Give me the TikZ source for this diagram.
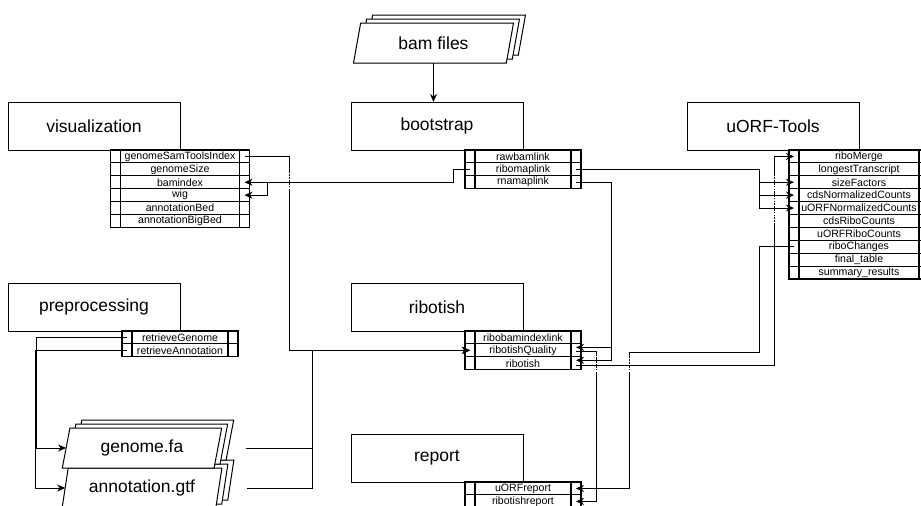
\documentclass[tikz,border=0pt]{standalone}
\usepackage{fontspec}
\setmainfont{Liberation Sans}
\usetikzlibrary{arrows.meta,shapes.geometric,shadows,calc}

\tikzset{
  block/.style={draw, fill=white, line width=1pt, minimum width=172, minimum height=48,
    inner sep=0, outer sep=0, font=\fontsize{17.5}{20}\selectfont},
  portlabel/.style={draw, line width=1.1pt, minimum height=12.9, inner sep=0, outer sep=0,
    font=\fontsize{10.6}{12}\selectfont},
  port/.style={draw, line width=1.1pt, minimum width=10, minimum height=12.9, inner sep=0, outer sep=0},
  datafile/.style={trapezium, trapezium left angle=75, trapezium right angle=105,
    trapezium stretches=true,
    draw, fill=white, line width=1pt, minimum width=160, minimum height=40,
    inner sep=0, outer sep=0, font=\fontsize{17.5}{20}\selectfont,
    general shadow={draw, fill=white, line width=1pt, shadow xshift=12pt, shadow yshift=8pt},
    general shadow={draw, fill=white, line width=1pt, shadow xshift=6pt, shadow yshift=4pt}},
  flow/.style={line width=1pt, -{Stealth[length=8pt,width=7pt,inset=2.5pt]}},
  hop/.style={white, line width=1.6pt, dash pattern=on 1.2pt off 1.6pt}
}

% #1 name, #2 rule box, #3 label width, #4 rows
\newcommand{\porttable}[4]{%
  \foreach \lbl [count=\i] in {#4} {
    \node[portlabel, minimum width=#3] (#1-\i) at ([yshift={-6.45-12.9*(\i-1)}]#2.south east) {\lbl};
    \node[port, anchor=east] (#1-\i-l) at (#1-\i.west) {};
    \node[port, anchor=west] (#1-\i-r) at (#1-\i.east) {};
  }
}

\begin{document}
\begin{tikzpicture}[x=1pt,y=-1pt]
\useasboundingbox (0,0) rectangle (921,506);
% rules
\node[block] (viz) at (94,126) {visualization};
\node[block] (boot) at (437,126) {bootstrap};
\node[block] (uorf) at (773,126) {uORF-Tools};
\node[block] (prep) at (94,307) {preprocessing};
\node[block] (rtish) at (437,307) {ribotish};
\node[block] (rep) at (437,458) {report};
% files
\node[datafile] (bam) at (433.5,43) {bam files};
\node[datafile] (annot) at (142,488) {annotation.gtf};
\node[datafile] (genome) at (142,448) {genome.fa};
% outputs
\porttable{viz}{viz}{119}{genomeSamToolsIndex,genomeSize,bamindex,wig,annotationBed,annotationBigBed}
\porttable{boot}{boot}{96}{rawbamlink,ribomaplink,rnamaplink}
\porttable{uorf}{uorf}{120}{riboMerge,longestTranscript,sizeFactors,cdsNormalizedCounts,uORFNormalizedCounts,cdsRiboCounts,uORFRiboCounts,riboChanges,final\_table,summary\_results}
\porttable{prep}{prep}{96}{retrieveGenome,retrieveAnnotation}
\porttable{rtish}{rtish}{96}{ribobamindexlink,ribotishQuality,ribotish}
\porttable{rep}{rep}{96}{uORFreport,ribotishreport}
% dependencies
\draw[flow] (bam.south) -- (bam.south |- boot.north);
\draw[flow] (viz-1-r.center) -- ++(45,0) |- (rtish-2-l.center);
\draw[flow] ([xshift=28]genome.east) -| (312,0 |- rtish-2-l.center) -- (rtish-2-l.center);
\draw[flow] ([xshift=28]annot.east) -| (312,0 |- rtish-2-l.center) -- (rtish-2-l.center);
\draw[flow] (prep-1-l.center) -| ([xshift=-30]genome.west) -- (genome.west);
\draw[flow] (prep-2-l.center) -| ([xshift=-30]annot.west) -- (annot.west);
\draw[flow] (boot-2-l.center) -- ++(-16.5,0) |- (viz-3-r.center);
\draw[flow] (boot-2-l.center) -- ++(-16.5,0) |- ([xshift=23]viz-3-r.center) |- (viz-4-r.center);
\foreach \k in {3,4,5}
  \draw[flow] (boot-2-r.center) -| ([xshift=-35]uorf-\k-l.center) -- (uorf-\k-l.center);
\foreach \k in {2,3}
  \draw[flow] (boot-3-r.center) -| ([xshift=35,yshift=3]rtish-\k-r.center) -- ([yshift=3]rtish-\k-r.center);
\draw[flow] ([yshift=-1.5]rtish-2-r.center) -- ++(20,0) |- (rep-2-r.center);
\draw[flow] (uorf-8-l.center) -- ++(-35,0) |- (629,352) |- (rep-1-r.center);
\draw[flow] ([yshift=-2.5]rtish-3-r.center) -| ([xshift=-20]uorf-1-l.center) -- (uorf-1-l.center);
% line jumps
\draw[hop] (289,173) -- (289,180) (289,184.5) -- (289,190);
\draw[hop] (774,176) -- (774,180) (774,184.5) -- (774,192.5) (774,196.5) -- (774,206) (774,210.5) -- (774,224);
\draw[hop] (596,356) -- (596,358.5) (596,362.5) -- (596,364) (596,367.5) -- (596,372);
\draw[hop] (629,358) -- (629,364) (629,367.5) -- (629,372);
\end{tikzpicture}
\end{document}
